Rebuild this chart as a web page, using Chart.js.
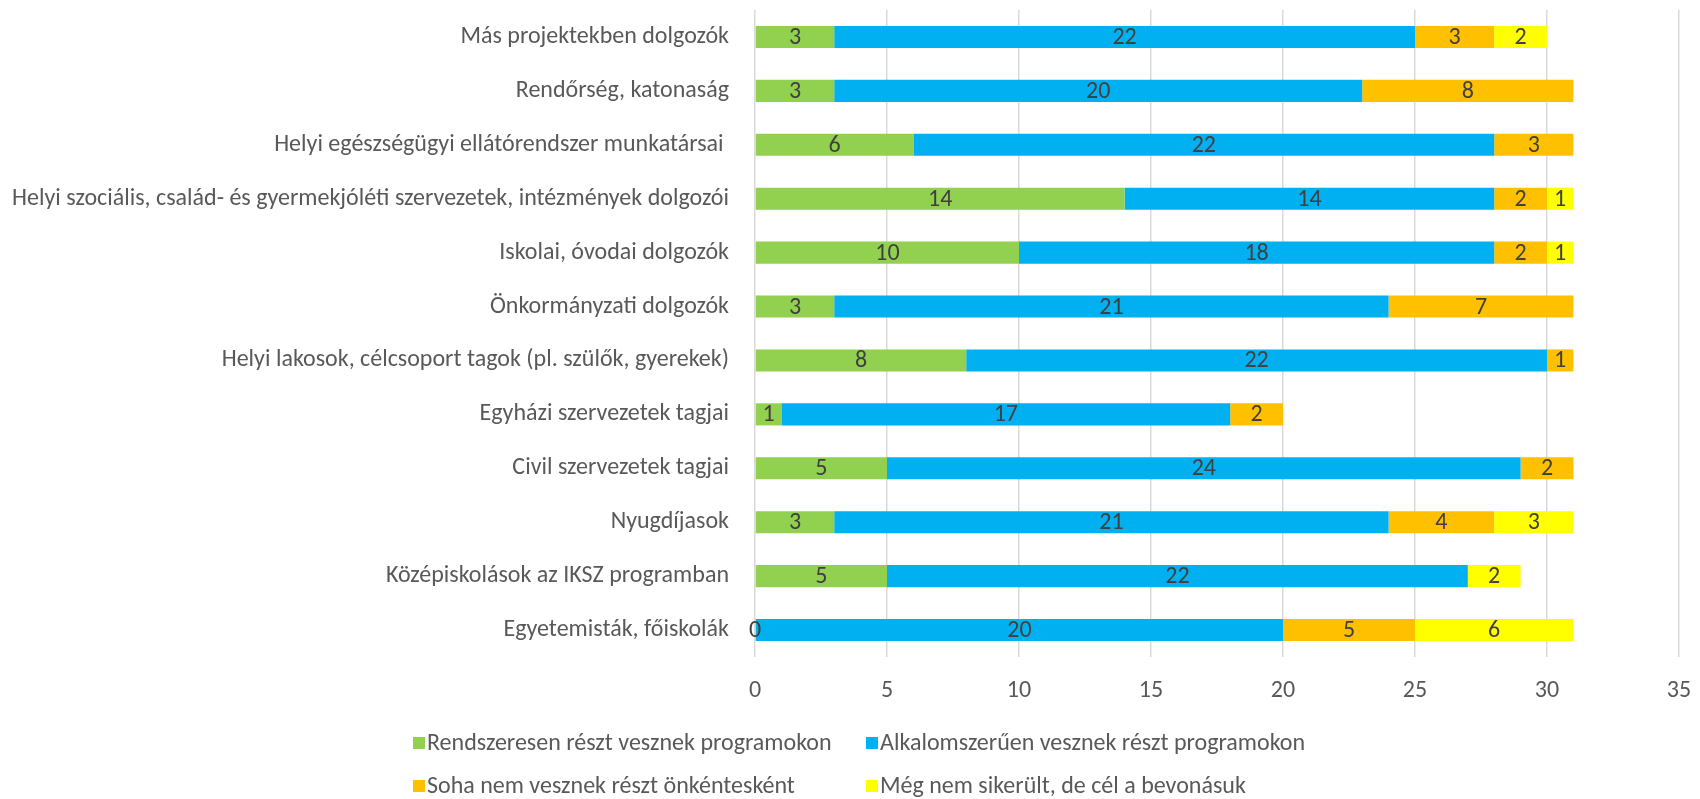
<!DOCTYPE html>
<html>
<head>
<meta charset="utf-8">
<script src="https://cdn.jsdelivr.net/npm/chart.js@4"></script>
<style>
  html, body { margin: 0; padding: 0; background: #fff; }
  #wrap { width: 1700px; height: 799px; position: relative; }
</style>
</head>
<body>
<div id="wrap"><canvas id="chart" width="1700" height="799"></canvas></div>
<script>
const categories = [
    'Más projektekben dolgozók',
    'Rendőrség, katonaság',
    'Helyi egészségügyi ellátórendszer munkatársai ',
    'Helyi szociális, család- és gyermekjóléti szervezetek, intézmények dolgozói',
    'Iskolai, óvodai dolgozók',
    'Önkormányzati dolgozók',
    'Helyi lakosok, célcsoport tagok (pl. szülők, gyerekek)',
    'Egyházi szervezetek tagjai',
    'Civil szervezetek tagjai',
    'Nyugdíjasok',
    'Középiskolások az IKSZ programban',
    'Egyetemisták, főiskolák'
];

const seriesNames = [
    'Rendszeresen részt vesznek programokon',
    'Alkalomszerűen vesznek részt programokon',
    'Soha nem vesznek részt önkéntesként',
    'Még nem sikerült, de cél a bevonásuk'
];

const regular    = [3, 3, 6, 14, 10, 3, 8, 1, 5, 3, 5, 0];
const occasional = [22, 20, 22, 14, 18, 21, 22, 17, 24, 21, 22, 20];
const never      = [3, 8, 3, 2, 2, 7, 1, 2, 2, 4, null, 5];
const notYet     = [2, null, null, 1, 1, null, null, null, null, 3, 2, 6];

const xTicks = [0, 5, 10, 15, 20, 25, 30, 35];

const colors = ['#92D050', '#00B0F0', '#FFC000', '#FFFF00'];
const FONT = 'Carlito, Calibri, "Liberation Sans Narrow", "Noto Sans", sans-serif';
const FONT_SIZE = 24;

// value labels in the middle of each segment
const segmentLabels = {
    id: 'segmentLabels',
    afterDatasetsDraw(chart) {
        const ctx = chart.ctx;
        ctx.save();
        ctx.font = FONT_SIZE + 'px ' + FONT;
        ctx.fillStyle = '#404040';
        ctx.textAlign = 'center';
        ctx.textBaseline = 'middle';
        chart.data.datasets.forEach((ds, i) => {
            const meta = chart.getDatasetMeta(i);
            meta.data.forEach((bar, j) => {
                const v = ds.data[j];
                if (v === null || v === undefined) return;
                ctx.fillText(String(v), (bar.x + bar.base) / 2, bar.y + 1);
            });
        });
        ctx.restore();
    }
};

// two-column legend like the original
const gridLegend = {
    id: 'gridLegend',
    afterDraw(chart, args, opts) {
        const ctx = chart.ctx;
        ctx.save();
        ctx.font = FONT_SIZE + 'px ' + FONT;
        ctx.textBaseline = 'middle';
        ctx.textAlign = 'left';
        chart.data.datasets.forEach((ds, i) => {
            const x = opts.cols[i % 2];
            const y = opts.rows[Math.floor(i / 2)];
            ctx.fillStyle = ds.backgroundColor;
            ctx.fillRect(x, y - 6, 12, 12);
            ctx.fillStyle = '#595959';
            ctx.fillText(ds.label, x + 14, y + 1);
        });
        ctx.restore();
    }
};

const datasets = [regular, occasional, never, notYet].map((d, i) => ({
    label: seriesNames[i],
    data: d,
    backgroundColor: colors[i],
    borderWidth: 0,
    barPercentage: 0.41,
    categoryPercentage: 1
}));

new Chart(document.getElementById('chart').getContext('2d'), {
    type: 'bar',
    data: { labels: categories, datasets: datasets },
    options: {
        indexAxis: 'y',
        responsive: false,
        animation: false,
        layout: { padding: { top: 10, right: 21, left: 0, bottom: 0 } },
        scales: {
            x: {
                stacked: true,
                min: 0,
                max: 35,
                afterBuildTicks(scale) {
                    scale.ticks = xTicks.map(v => ({ value: v }));
                },
                afterFit(scale) {
                    scale.height = 142;
                    scale.paddingLeft = 0;
                    scale.paddingRight = 0;
                },
                grid: { color: '#D9D9D9', lineWidth: 1.5, drawTicks: false },
                border: { display: false },
                ticks: {
                    padding: 20,
                    color: '#595959',
                    font: { family: FONT, size: FONT_SIZE }
                }
            },
            y: {
                stacked: true,
                afterFit(scale) {
                    scale.width = 755;
                    scale.paddingTop = 0;
                    scale.paddingBottom = 0;
                },
                grid: { display: false, drawTicks: false },
                border: { display: false },
                ticks: {
                    padding: 26,
                    color: '#595959',
                    font: { family: FONT, size: FONT_SIZE }
                }
            }
        },
        plugins: {
            legend: { display: false },
            tooltip: { enabled: false },
            gridLegend: { cols: [413, 866], rows: [743, 786] }
        }
    },
    plugins: [segmentLabels, gridLegend]
});
</script>
</body>
</html>
